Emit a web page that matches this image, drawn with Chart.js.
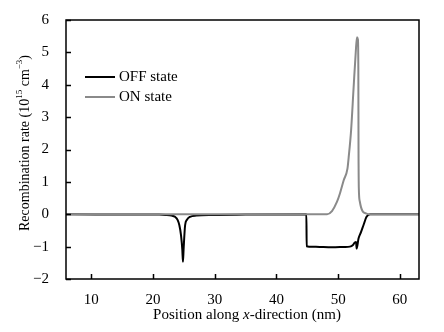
<!DOCTYPE html>
<html>
<head>
<meta charset="utf-8">
<script src="https://cdn.jsdelivr.net/npm/chart.js@4.4.1/dist/chart.umd.min.js"></script>
<style>
  html, body { margin: 0; padding: 0; background: #fff; }
  canvas { display: block; }
</style>
</head>
<body>
<canvas id="recombChart" width="444" height="332"></canvas>
<script>
// values
const offX = [5.9, 20, 21, 22, 23, 23.57, 24, 24.27, 24.54, 24.75, 24.85, 24.95, 25.2, 25.5, 26, 27, 29.7, 35, 44.85, 44.9, 45.3, 47, 49, 51, 51.9, 52.4, 52.7, 52.9, 53.0, 53.3, 53.7, 54.1, 54.6, 55.2, 63.1];
const offY = [0, -0.01, -0.01, -0.02, -0.04, -0.08, -0.18, -0.34, -0.65, -1.1, -1.47, -1.1, -0.34, -0.17, -0.08, -0.04, -0.02, -0.01, 0, -0.99, -1.0, -1.01, -1.02, -1.01, -1.0, -0.95, -0.87, -0.86, -1.06, -0.75, -0.55, -0.34, -0.08, 0, 0];
const onX = [5.9, 48.2, 49.0, 49.8, 50.3, 50.9, 51.5, 51.7, 52.1, 52.5, 52.85, 53.05, 53.2, 53.27, 53.3, 53.35, 53.5, 53.7, 54.0, 54.6, 55, 63.1];
const onY = [0, 0, 0.1, 0.38, 0.65, 1.05, 1.4, 1.75, 2.6, 3.9, 5.0, 5.47, 5.4, 4.5, 2.0, 0.8, 0.4, 0.22, 0.08, 0.02, 0, 0];
const xTicks = [10, 20, 30, 40, 50, 60];
const yTicks = [-2, -1, 0, 1, 2, 3, 4, 5, 6];
const seriesNames = ["OFF state", "ON state"];

const FONT = "'Liberation Serif', 'Times New Roman', serif";
const toPoints = (xs, ys) => xs.map((x, i) => ({ x: x, y: ys[i] }));

// frame, inward ticks, legend, axis titles
const decor = {
  id: "decor",
  afterDraw(chart) {
    const ctx = chart.ctx;
    const a = chart.chartArea;
    const xs = chart.scales.x, ys = chart.scales.y;
    ctx.save();
    ctx.strokeStyle = "#000";
    ctx.lineWidth = 1.5;
    ctx.strokeRect(a.left, a.top, a.right - a.left, a.bottom - a.top);
    ctx.beginPath();
    xTicks.forEach(v => {
      const px = Math.round(xs.getPixelForValue(v)) + 0.5;
      ctx.moveTo(px, a.bottom); ctx.lineTo(px, a.bottom - 5);
    });
    yTicks.forEach(v => {
      const py = Math.round(ys.getPixelForValue(v)) + 0.5;
      ctx.moveTo(a.left, py); ctx.lineTo(a.left + 5, py);
    });
    ctx.stroke();

    // legend
    const rows = [{ name: seriesNames[0], color: "#000", y: 77 }, { name: seriesNames[1], color: "#8a8a8a", y: 97 }];
    ctx.font = "15px " + FONT;
    ctx.textBaseline = "middle";
    ctx.fillStyle = "#000";
    rows.forEach(r => {
      ctx.strokeStyle = r.color;
      ctx.lineWidth = 2;
      ctx.beginPath(); ctx.moveTo(85, r.y); ctx.lineTo(115, r.y); ctx.stroke();
      ctx.fillText(r.name, 119, r.y);
    });

    const drawRuns = (runs, cx, cy) => {
      let total = 0;
      runs.forEach(r => { ctx.font = r.font; r.w = ctx.measureText(r.t).width; total += r.w; });
      let x = cx - total / 2;
      runs.forEach(r => {
        ctx.font = r.font;
        ctx.fillText(r.t, x, cy + (r.dy || 0));
        x += r.w;
      });
    };
    ctx.textBaseline = "middle";
    ctx.textAlign = "left";
    // x title with italic x
    drawRuns([
      { t: "Position along ", font: "15px " + FONT },
      { t: "x", font: "italic 15px " + FONT },
      { t: "-direction (nm)", font: "15px " + FONT }
    ], 247, 315);

    // y title, rotated, with superscripts
    ctx.translate(25, 143);
    ctx.rotate(-Math.PI / 2);
    drawRuns([
      { t: "Recombination rate (10", font: "14px " + FONT },
      { t: "15", font: "9px " + FONT, dy: -5 },
      { t: " cm", font: "14px " + FONT },
      { t: "\u22123", font: "9px " + FONT, dy: -5 },
      { t: ")", font: "14px " + FONT }
    ], 0, 0);
    ctx.restore();
  }
};

new Chart(document.getElementById("recombChart"), {
  type: "line",
  data: {
    datasets: [
      { label: seriesNames[1], data: toPoints(onX, onY), borderColor: "#8a8a8a", borderWidth: 2, pointRadius: 0, cubicInterpolationMode: "monotone" },
      { label: seriesNames[0], data: toPoints(offX, offY), borderColor: "#000", borderWidth: 2, pointRadius: 0, cubicInterpolationMode: "monotone" }
    ]
  },
  options: {
    responsive: false,
    animation: false,
    layout: { padding: { left: 0, right: 25, top: 20, bottom: 0 } },
    plugins: { legend: { display: false }, tooltip: { enabled: false } },
    scales: {
      x: {
        type: "linear", min: 5.9, max: 63.1,
        afterBuildTicks: s => { s.ticks = xTicks.map(v => ({ value: v })); },
        afterFit: s => { s.height = 53; },
        grid: { display: false }, border: { display: false },
        ticks: { color: "#000", font: { family: FONT, size: 15 }, padding: 4, maxRotation: 0 }
      },
      y: {
        type: "linear", min: -2, max: 6,
        afterBuildTicks: s => { s.ticks = yTicks.map(v => ({ value: v })); },
        afterFit: s => { s.width = 66; },
        grid: { display: false }, border: { display: false },
        ticks: { color: "#000", font: { family: FONT, size: 15 }, padding: 9,
          callback: v => String(v).replace("-", "\u2212") }
      }
    }
  },
  plugins: [decor]
});
</script>
</body>
</html>
